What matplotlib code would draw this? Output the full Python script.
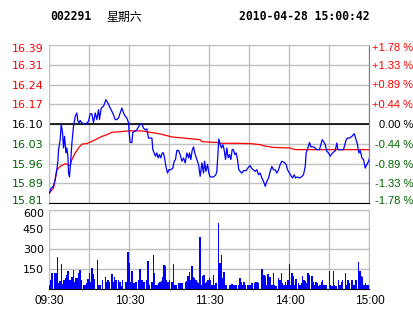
import matplotlib
matplotlib.use("Agg")
from matplotlib import pyplot as plt
from matplotlib.transforms import ScaledTranslation

# header
stock_code = "002291"
weekday = "星期六"
stamp = "2010-04-28 15:00:42"

# price axis labels (left) and change labels (right), top to bottom
price_labels = ["16.39", "16.31", "16.24", "16.17", "16.10", "16.03", "15.96", "15.89", "15.81"]
pct_labels = ["+1.78 %", "+1.33 %", "+0.89 %", "+0.44 %", "0.00 %", "-0.44 %", "-0.89 %", "-1.33 %", "-1.78 %"]
prev_close = 16.10
max_pct = 1.78

vol_labels = ["150", "300", "450", "600"]
time_labels = ["09:30", "10:30", "11:30", "14:00", "15:00"]

# minute trade price (minutes after 09:30, trading time only)
trade_min = [0, 1.3, 3, 4.3, 5.5, 6.3, 6.8, 8, 8.8, 9.8, 10.5, 11.3, 12.3, 13, 13.8, 14.3,
             15, 15.8, 16.8, 18, 19.3, 20.5, 21.3, 22.3, 23, 24.3, 25.5, 26.8, 28, 29.3,
             30.5, 31.8, 33, 34.3, 35.5, 36.8, 37.5, 38.8, 40.5, 42.3, 43.8, 45.5, 46.8,
             48, 49.3, 50.5, 51.8, 53, 54.3, 55.5, 56.8, 58, 59.3, 59.8, 60.5, 61.8, 62.5,
             63.8, 65.5, 68, 69.3, 70.5, 71.8, 73, 74.3, 76.8, 77.5, 78.5, 79.5, 80.5, 81.5,
             82.5, 83.5, 84.5, 85.5, 86.5, 87.3, 88.5, 89.5, 91, 92.5, 93.5, 94.5, 95.5,
             96.8, 98, 99.3, 100.5, 101.8, 103, 104.3, 105, 106, 107, 108, 109.3, 110.5,
             111.8, 113, 114.3, 115.5, 116.3, 117.3, 118.5, 119.5, 120.5, 123, 124.8,
             125.5, 126.3, 127, 128, 129, 130, 131, 132, 133, 134, 135, 136, 137, 138,
             139, 140, 141, 142, 143, 144.3, 145.5, 147.5, 149.3, 150.5, 151.8, 153,
             154.3, 155.5, 156.8, 158, 159.3, 161, 161.8, 163, 164.3, 165.5, 166.8, 168,
             169.3, 170.5, 171.8, 173, 174.3, 176, 177.5, 178.5, 180, 181, 182.3, 183.5,
             184.5, 186, 187.5, 189.3, 190.5, 191.8, 192.5, 193.8, 195, 196, 198, 199.3,
             200.5, 202.5, 203.5, 204.5, 205.5, 206.8, 208, 209.3, 210.5, 211.8, 213,
             214.3, 215.5, 216.3, 218, 220.5, 222.5, 223.5, 225, 226.8, 228.5, 230, 231,
             232, 233, 234.3, 235.5, 236.8, 238, 239.3, 240]
trade_px = [15.850, 15.868, 15.874, 15.898, 15.934, 15.965, 16.007, 16.043, 16.100, 16.067,
            16.013, 16.055, 15.995, 16.013, 15.983, 15.922, 15.908, 15.959, 16.031, 16.092,
            16.128, 16.140, 16.110, 16.104, 16.113, 16.104, 16.101, 16.098, 16.104, 16.110,
            16.137, 16.137, 16.104, 16.140, 16.116, 16.152, 16.116, 16.158, 16.164, 16.188,
            16.176, 16.158, 16.146, 16.134, 16.116, 16.116, 16.122, 16.140, 16.158, 16.140,
            16.128, 16.122, 16.104, 16.067, 16.033, 16.033, 16.070, 16.073, 16.079, 16.100,
            16.100, 16.085, 16.079, 16.082, 16.049, 16.049, 16.007, 15.995, 15.983, 15.995,
            15.977, 15.989, 15.977, 15.995, 15.995, 15.971, 15.946, 15.922, 15.934, 15.934,
            15.940, 15.965, 15.971, 16.004, 16.004, 15.989, 15.965, 15.977, 15.959, 15.995,
            15.977, 15.995, 15.971, 16.004, 16.017, 15.989, 15.971, 15.953, 15.910, 15.959,
            15.922, 15.965, 15.928, 15.953, 15.922, 15.908, 15.908, 15.916, 15.928, 15.989,
            16.046, 16.025, 16.013, 16.025, 16.007, 15.971, 16.013, 15.977, 15.989, 15.971,
            16.007, 16.007, 15.989, 15.995, 15.971, 15.934, 15.928, 15.922, 15.931, 15.931,
            15.944, 15.949, 15.938, 15.934, 15.928, 15.934, 15.916, 15.922, 15.904, 15.886,
            15.874, 15.892, 15.904, 15.928, 15.946, 15.934, 15.934, 15.922, 15.934, 15.953,
            15.965, 15.961, 15.953, 15.934, 15.922, 15.913, 15.904, 15.916, 15.904, 15.908,
            15.904, 15.910, 15.916, 15.946, 15.995, 16.013, 16.033, 16.017, 16.017, 16.013,
            16.007, 16.007, 16.025, 16.043, 16.037, 16.025, 16.001, 15.995, 15.983, 15.992,
            15.998, 16.003, 16.031, 16.007, 16.007, 16.007, 16.043, 16.049, 16.049, 16.055,
            16.065, 16.043, 16.025, 15.995, 16.004, 15.977, 15.971, 15.940, 15.953, 15.965,
            15.977]

# average price line
avg_min = [0, 3, 5.5, 8, 11.8, 15.5, 16.8, 19.3, 21.8, 24.3, 28, 31.8, 35.5, 39.3, 43, 46.8,
           53, 59.3, 69.3, 74.3, 83, 91.8, 100.5, 113, 114.3, 125.5, 129.3, 140.5, 150.5,
           158, 160.5, 168, 180.5, 184.3, 240]
avg_px = [15.850, 15.868, 15.934, 15.946, 15.956, 15.949, 15.971, 15.995, 16.013, 16.027,
          16.029, 16.037, 16.046, 16.055, 16.061, 16.070, 16.072, 16.075, 16.075, 16.071,
          16.064, 16.053, 16.049, 16.043, 16.036, 16.033, 16.030, 16.030, 16.029, 16.025,
          16.021, 16.015, 16.013, 16.007, 16.007]

# volume per minute (hands)
vol_min = [0, 1, 2, 4, 5, 6, 7, 8, 9, 10, 11, 12, 13, 14, 15, 16, 17, 18, 19, 20, 21, 22, 23,
           24, 26, 27, 28, 29, 30, 31, 32, 33, 34, 36, 37, 38, 40, 42, 43, 44, 45, 47, 48,
           49, 50, 52, 53, 54, 55, 57, 58, 59, 60, 61, 62, 63, 64, 65, 67, 68, 69, 70, 71,
           73, 74, 75, 77, 78, 79, 80, 81, 82, 83, 84, 85, 86, 87, 88, 89, 90, 92, 93, 94,
           95, 97, 98, 99, 100, 102, 103, 104, 105, 106, 107, 108, 109, 110, 111, 112, 113,
           114, 115, 116, 117, 118, 119, 120, 121, 122, 123, 124, 125, 127, 128, 129, 130,
           131, 132, 133, 135, 136, 137, 138, 139, 140, 142, 143, 144, 145, 146, 147, 149,
           150, 151, 152, 154, 155, 156, 157, 159, 160, 161, 162, 163, 164, 165, 166, 167,
           168, 169, 170, 172, 173, 174, 175, 176, 177, 178, 179, 180, 181, 182, 183, 184,
           185, 187, 188, 189, 190, 191, 192, 193, 194, 195, 197, 198, 199, 200, 201, 202,
           203, 204, 205, 206, 207, 208, 210, 211, 212, 213, 214, 215, 217, 218, 219, 220,
           222, 223, 224, 225, 227, 228, 229, 230, 232, 233, 234, 235, 236, 237, 238, 239, 240]
vol = [25, 63, 119, 119, 119, 240, 38, 58, 185, 33, 63, 76, 101, 134, 63, 68, 89, 144, 51, 76,
       76, 119, 139, 63, 23, 25, 38, 71, 114, 51, 152, 109, 71, 215, 25, 25, 68, 89, 51, 68,
       51, 109, 51, 84, 63, 63, 51, 18, 63, 51, 51, 278, 190, 51, 134, 43, 43, 51, 63, 149,
       63, 68, 51, 63, 210, 25, 51, 253, 119, 25, 25, 43, 51, 58, 89, 177, 172, 63, 51, 63,
       51, 185, 25, 25, 38, 38, 38, 43, 51, 58, 94, 127, 63, 170, 89, 76, 68, 51, 38, 392,
       25, 94, 101, 38, 51, 63, 76, 63, 25, 101, 25, 38, 499, 195, 253, 76, 127, 25, 25, 25,
       25, 33, 25, 25, 25, 25, 76, 51, 25, 51, 25, 25, 25, 25, 38, 38, 51, 51, 43, 147, 147,
       101, 94, 25, 109, 84, 84, 25, 119, 25, 18, 76, 63, 119, 43, 25, 51, 25, 68, 185, 25,
       119, 94, 25, 71, 43, 25, 43, 94, 63, 58, 38, 119, 101, 94, 51, 25, 51, 43, 18, 25, 51,
       63, 25, 25, 25, 134, 25, 18, 134, 25, 18, 68, 25, 51, 68, 119, 25, 68, 43, 68, 25, 25,
       63, 200, 134, 94, 89, 25, 38, 25, 25, 51]

RED = "#ff0000"
GREEN = "#006400"
GRID = "#c0c0c0"

W, H = 414, 314
fig = plt.figure(figsize=(W / 100, H / 100), dpi=100)
ax = fig.add_axes([49.5 / W, 1 - 203 / H, 320 / W, 158 / H])
axv = fig.add_axes([49.5 / W, 1 - 288.5 / H, 320 / W, 79 / H])

left_font = dict(family="DejaVu Sans", size=8)
right_font = dict(family="Liberation Sans", size=8)
time_font = dict(family="Liberation Sans", size=8.5)


def nudge(label, dy_px):
    # shift an end label inside the panel, as the original does
    label.set_transform(label.get_transform() +
                        ScaledTranslation(0, dy_px / 100, fig.dpi_scale_trans))


def colour_labels(labels):
    for i, t in enumerate(labels):
        t.set_color(RED if i < 4 else ("black" if i == 4 else GREEN))


# ---- price panel ----
lo = prev_close * (1 - max_pct / 100)
hi = prev_close * (1 + max_pct / 100)
ax.set_xlim(0, 240)
ax.set_ylim(lo, hi)
levels = [hi - i * (hi - lo) / 8 for i in range(9)]
ax.set_yticks(levels)
ax.set_yticklabels(price_labels, **left_font)
ax.set_xticks(range(0, 241, 30))
ax.set_xticklabels([])
ax.tick_params(length=0, pad=4)
ax.grid(True, color=GRID, lw=1)
colour_labels(ax.get_yticklabels())
for side in ["left", "top"]:
    ax.spines[side].set_color(GRID)
ax.spines["right"].set_color("#808080")
ax.spines["bottom"].set_color("black")
ax.axhline(prev_close, color="black", lw=1.2, zorder=2)

ax.plot(avg_min, avg_px, color=RED, lw=0.9, zorder=3)
ax.plot(trade_min, trade_px, color="#0000ff", lw=0.9, zorder=4)

axr = ax.twinx()
axr.set_ylim(lo, hi)
axr.set_yticks(levels)
axr.set_yticklabels(pct_labels, **right_font)
axr.tick_params(length=0, pad=31.5)
colour_labels(axr.get_yticklabels())
for t in axr.get_yticklabels():
    t.set_horizontalalignment("right")
for s in axr.spines.values():
    s.set_visible(False)

lt, rt = ax.get_yticklabels(), axr.get_yticklabels()
nudge(lt[0], -3)
nudge(lt[-1], 3.5)
nudge(rt[0], -2)
nudge(rt[-1], 3.5)

# ---- volume panel ----
axv.bar(vol_min, vol, width=1.0, color="#0000ff", align="center", lw=0,
        antialiased=False, zorder=3)
axv.set_xlim(0, 240)
axv.set_ylim(0, 600)
axv.set_yticks([150, 300, 450, 600])
axv.set_yticklabels(vol_labels, **left_font)
axv.set_xticks(range(0, 241, 30))
axv.set_xticklabels([time_labels[i // 2] if i % 2 == 0 else "" for i in range(9)], **time_font)
axv.tick_params(length=0, pad=4)
axv.tick_params(axis="x", pad=5)
axv.grid(True, color=GRID, lw=1)
for side in ["left", "top", "right"]:
    axv.spines[side].set_color(GRID)
axv.spines["bottom"].set_color("black")
nudge(axv.get_yticklabels()[-1], -4)

# ---- header ----
fig.text(50 / W, 1 - 17 / H, stock_code, family="DejaVu Sans Mono", weight="bold",
         size=8.3, va="center", ha="left")
fig.text(106 / W, 1 - 17 / H, weekday, family="Noto Sans CJK SC", size=8.6,
         va="center", ha="left")
fig.text(370 / W, 1 - 17 / H, stamp, family="DejaVu Sans Mono", weight="bold",
         size=8.3, va="center", ha="right")

fig.savefig("out.png", dpi=100)
